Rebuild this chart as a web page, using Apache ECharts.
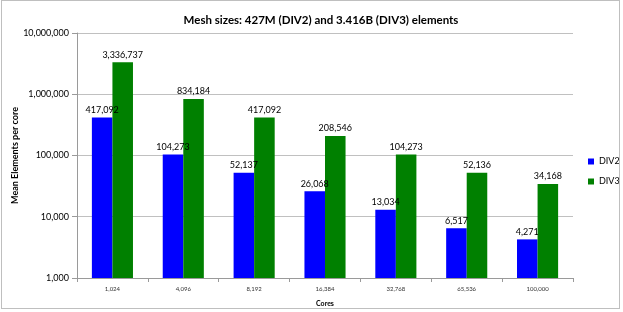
<!DOCTYPE html>
<html><head><meta charset="utf-8">
<script src="https://cdn.jsdelivr.net/npm/echarts@6/dist/echarts.min.js"></script>
<style>
html,body{margin:0;padding:0;background:#fff;}
#c{position:absolute;left:0;top:0;width:623px;height:312px;}
#b{position:absolute;left:1px;top:0px;width:619px;height:309px;border:1px solid #bfbfbf;box-sizing:border-box;pointer-events:none;}
</style></head>
<body><div id="c"></div><div id="b"></div>
<script>
const categories = ['1,024','4,096','8,192','16,384','32,768','65,536','100,000'];
const div2 = [417092,104273,52137,26068,13034,6517,4271];
const div3 = [3336737,834184,417092,208546,104273,52136,34168];
const yTicks = [1000,10000,100000,1000000,10000000];

const font = 'Lato, "Open Sans", sans-serif';
const fmt = v => Number(v).toLocaleString('en-US');
const chart = echarts.init(document.getElementById('c'));
chart.setOption({
  animation:false,
  textStyle:{fontFamily:font},
  title:{text:'Mesh sizes: 427M (DIV2) and 3.416B (DIV3) elements',left:316,top:9,textAlign:'center',
    textStyle:{fontFamily:font,fontSize:11.5,fontWeight:'bold',color:'#000'}},
  legend:{orient:'vertical',left:583,top:152,itemWidth:6,itemHeight:6,itemGap:11,icon:'rect',
    textStyle:{fontFamily:font,fontSize:9,color:'#000'},data:['DIV2','DIV3']},
  grid:{left:77,right:50,top:33,bottom:34,containLabel:false,outerBoundsMode:'none'},
  xAxis:{type:'category',data:categories,
    axisLine:{lineStyle:{color:'#9a9a9a'}},
    axisTick:{show:true,alignWithLabel:false,length:4,lineStyle:{color:'#9a9a9a'}},
    axisLabel:{fontSize:6,color:'#333',margin:8,fontFamily:font},
    name:'Cores',nameLocation:'middle',nameGap:22,nameMoveOverlap:false,
    nameTextStyle:{fontSize:7,fontWeight:'bold',color:'#000',fontFamily:font}},
  yAxis:{type:'log',logBase:10,min:1000,max:10000000,
    axisLine:{show:true,lineStyle:{color:'#9a9a9a'}},
    axisTick:{show:true,length:5,inside:false,lineStyle:{color:'#9a9a9a'}},
    splitLine:{lineStyle:{color:'#c0c0c0'}},
    axisLabel:{fontSize:9,color:'#000',margin:8,fontFamily:font,formatter:v=>fmt(v)},
    name:'Mean Elements per core',nameLocation:'middle',nameGap:57,nameRotate:90,nameMoveOverlap:false,
    nameTextStyle:{fontSize:9,fontWeight:'bold',color:'#000',fontFamily:font}},
  series:[
    {name:'DIV2',type:'bar',data:div2,barGap:'0%',barCategoryGap:'42%',
      itemStyle:{color:'#0000ff'},
      label:{show:true,position:'top',distance:3,fontSize:9,color:'#000',fontFamily:font,formatter:p=>fmt(p.value)}},
    {name:'DIV3',type:'bar',data:div3,barGap:'0%',barCategoryGap:'42%',
      itemStyle:{color:'#008000'},
      label:{show:true,position:'top',distance:3,fontSize:9,color:'#000',fontFamily:font,formatter:p=>fmt(p.value)}}
  ]
});
</script></body></html>
